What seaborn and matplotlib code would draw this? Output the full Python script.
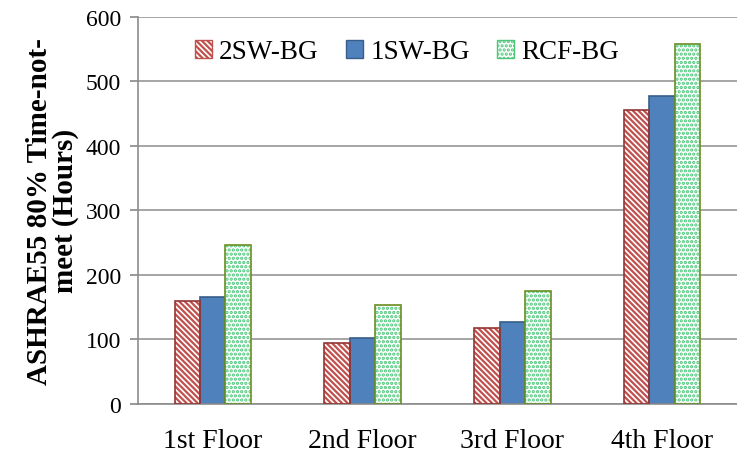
import matplotlib
matplotlib.use("Agg")
import matplotlib.pyplot as plt
import seaborn as sns
import pandas as pd
from matplotlib.patches import Rectangle, Patch

floors = ["1st Floor", "2nd Floor", "3rd Floor", "4th Floor"]
series = ["2SW-BG", "1SW-BG", "RCF-BG"]
vals_2sw = [160, 94, 117, 456]
vals_1sw = [166, 102, 127, 477]
vals_rcf = [246, 154, 175, 558]

df = pd.DataFrame({
    "Floor": floors * 3,
    "Series": [series[0]] * 4 + [series[1]] * 4 + [series[2]] * 4,
    "Hours": vals_2sw + vals_1sw + vals_rcf,
})

sns.set_theme(style="white")
plt.rcParams["font.family"] = ["Liberation Serif", "DejaVu Serif"]
plt.rcParams["hatch.linewidth"] = 1.6
plt.rcParams["text.color"] = "black"
plt.rcParams["axes.labelcolor"] = "black"
plt.rcParams["xtick.color"] = "black"
plt.rcParams["ytick.color"] = "black"

fig = plt.figure(figsize=(7.37, 4.56), dpi=100)
ax = fig.add_axes([0.187, 0.112, 0.813, 0.849])

sns.barplot(data=df, x="Floor", y="Hours", hue="Series", order=floors,
            hue_order=series, width=0.51, ax=ax, legend=False)

styles = {
    "2SW-BG": dict(face="white", hatch="\\\\\\\\\\\\", hcol="#C0504D", edge="#943634"),
    "1SW-BG": dict(face="#4F81BD", hatch=None, hcol="#385D8A", edge="#385D8A"),
    "RCF-BG": dict(face="white", hatch="....", hcol="#4CC77A", edge="#6B8E23"),
}

for cont, name in zip(ax.containers, series):
    st = styles[name]
    for bar in cont:
        bar.set_facecolor(st["face"])
        if st["hatch"]:
            bar.set_hatch(st["hatch"])
            bar.set_edgecolor(st["hcol"])
            bar.set_linewidth(0)
            ax.add_patch(Rectangle((bar.get_x(), bar.get_y()), bar.get_width(),
                                   bar.get_height(), facecolor="none",
                                   edgecolor=st["edge"], linewidth=1.2, zorder=3))
        else:
            bar.set_edgecolor(st["edge"])
            bar.set_linewidth(1.2)

ax.set_ylim(0, 600)
ax.set_yticks(range(0, 601, 100))
ax.yaxis.grid(True, color="#969696", linewidth=1.2)
ax.set_axisbelow(True)
for s in ["top", "right"]:
    ax.spines[s].set_visible(False)
for s in ["left", "bottom"]:
    ax.spines[s].set_color("#8c8c8c")
    ax.spines[s].set_linewidth(1.2)
ax.tick_params(axis="y", left=True, direction="out", length=6, color="#8c8c8c",
               labelsize=17, pad=6, labelcolor="black")
ax.tick_params(axis="x", bottom=False, labelsize=20, pad=11, labelcolor="black")
ax.set_xlabel("")
ax.set_ylabel("ASHRAE55 80% Time-not-\nmeet (Hours)", fontsize=21,
              fontweight="bold", labelpad=5, linespacing=0.95, color="black")

handles = []
for name in series:
    st = styles[name]
    if st["hatch"]:
        handles.append(Patch(facecolor=st["face"], hatch=st["hatch"],
                             edgecolor=st["hcol"], linewidth=1.0, label=name))
    else:
        handles.append(Patch(facecolor=st["face"], edgecolor=st["edge"],
                             linewidth=1.0, label=name))
ax.legend(handles=handles, loc="center", bbox_to_anchor=(0.449, 0.91), ncol=3,
          frameon=False, fontsize=19.5, handlelength=0.65, handleheight=0.65,
          handletextpad=0.25, columnspacing=1.0)

fig.savefig("out.png", dpi=100)
